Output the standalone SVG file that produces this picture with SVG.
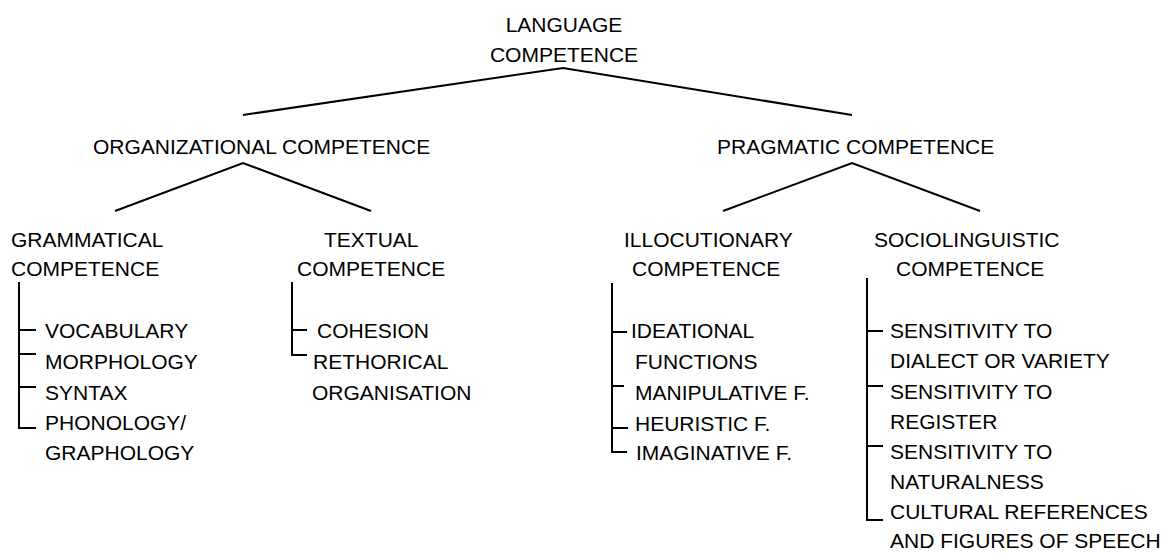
<svg xmlns="http://www.w3.org/2000/svg" width="1167" height="553" viewBox="0 0 1167 553">
<style>
text{font-family:"Liberation Sans",Arial,sans-serif;font-size:21px;fill:#000}
.c{text-anchor:middle}
line,polyline{stroke:#000;stroke-width:2;fill:none}
</style>
<rect width="1167" height="553" fill="#fff"/>
<g id="connectors">
<polyline points="243,115 563,68 852,115"/>
<polyline points="115,211 243,163 371,211"/>
<polyline points="723,211 852,163 980,211"/>
<polyline points="19,282 19,428 36,428"/>
<line x1="19" y1="330" x2="36" y2="330"/>
<line x1="19" y1="354" x2="36" y2="354"/>
<line x1="19" y1="387" x2="36" y2="387"/>
<polyline points="292,282 292,355 307,355"/>
<line x1="292" y1="330" x2="307" y2="330"/>
<polyline points="612,283 612,452 627,452"/>
<line x1="612" y1="332" x2="627" y2="332"/>
<line x1="612" y1="386" x2="624" y2="386"/>
<line x1="612" y1="428" x2="628" y2="428"/>
<polyline points="867,278 867,520 883,520"/>
<line x1="867" y1="331" x2="883" y2="331"/>
<line x1="867" y1="386" x2="883" y2="386"/>
<line x1="867" y1="446" x2="883" y2="446"/>
</g>
<g id="language">
<text class="c" x="564" y="32">LANGUAGE</text>
<text class="c" x="564" y="62">COMPETENCE</text>
</g>
<g id="organizational"><text x="93" y="154">ORGANIZATIONAL COMPETENCE</text></g>
<g id="pragmatic"><text x="717" y="154">PRAGMATIC COMPETENCE</text></g>
<g id="grammatical">
<text x="11" y="247">GRAMMATICAL</text>
<text x="11" y="276">COMPETENCE</text>
</g>
<g id="grammatical-items">
<text x="45" y="338">VOCABULARY</text>
<text x="45" y="369">MORPHOLOGY</text>
<text x="45" y="400">SYNTAX</text>
<text x="45" y="430">PHONOLOGY/</text>
<text x="45" y="460">GRAPHOLOGY</text>
</g>
<g id="textual">
<text x="324" y="247">TEXTUAL</text>
<text x="297" y="276">COMPETENCE</text>
</g>
<g id="textual-items">
<text x="317" y="338">COHESION</text>
<text x="313" y="369">RETHORICAL</text>
<text x="312" y="400">ORGANISATION</text>
</g>
<g id="illocutionary">
<text x="624" y="247">ILLOCUTIONARY</text>
<text x="632" y="276">COMPETENCE</text>
</g>
<g id="illocutionary-items">
<text x="631" y="338">IDEATIONAL</text>
<text x="635" y="369">FUNCTIONS</text>
<text x="635" y="400">MANIPULATIVE F.</text>
<text x="635" y="431">HEURISTIC F.</text>
<text x="636" y="460">IMAGINATIVE F.</text>
</g>
<g id="sociolinguistic">
<text x="874" y="247">SOCIOLINGUISTIC</text>
<text x="896" y="276">COMPETENCE</text>
</g>
<g id="sociolinguistic-items">
<text x="890" y="338">SENSITIVITY TO</text>
<text x="890" y="368">DIALECT OR VARIETY</text>
<text x="890" y="399">SENSITIVITY TO</text>
<text x="890" y="429">REGISTER</text>
<text x="890" y="459">SENSITIVITY TO</text>
<text x="890" y="489">NATURALNESS</text>
<text x="890" y="519">CULTURAL REFERENCES</text>
<text x="890" y="548">AND FIGURES OF SPEECH</text>
</g>
</svg>
